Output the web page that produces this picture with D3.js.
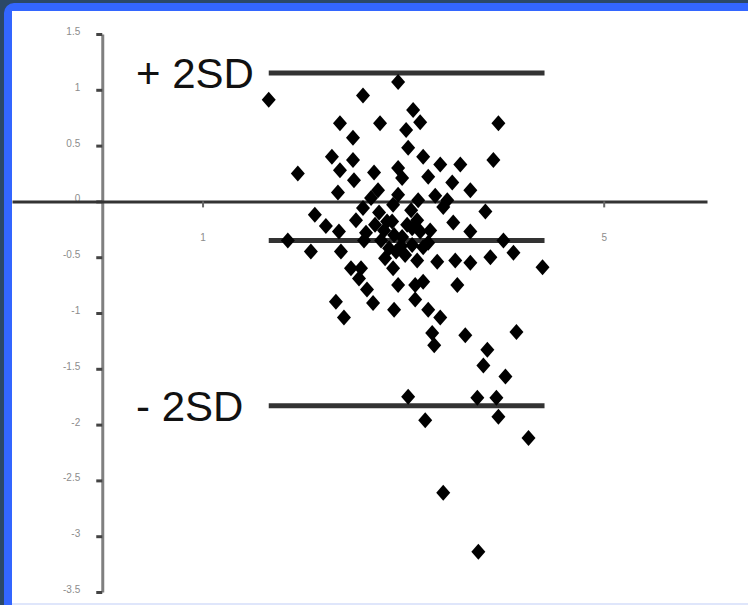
<!DOCTYPE html>
<html>
<head>
<meta charset="utf-8">
<script src="https://cdn.jsdelivr.net/npm/d3@7"></script>
<style>
  body { margin: 0; background: #2b4868; }
  svg { display: block; }
</style>
</head>
<body>
<div id="chart"></div>
<script>
// mean of the two methods (x) and their difference (y)
var meanValues = [
  1.66, 2.95, 2.60, 2.37, 2.77, 3.10, 3.17, 3.03, 2.50, 3.95, 3.90, 1.95, 3.05, 2.29, 2.37, 2.50, 3.20,
  3.37, 3.57, 3.25, 3.49, 2.71, 2.75, 2.95, 2.99, 2.51, 3.67, 2.35, 2.95, 3.44, 3.82, 3.50, 3.67,
  2.12, 2.23, 2.36, 2.38, 2.60, 2.76, 2.63, 2.84, 3.08, 3.14, 3.27, 3.40, 3.20, 2.99, 3.25,
  2.91, 2.98, 2.86, 2.81, 3.04, 2.53, 2.68, 2.90, 3.15, 3.32, 1.85, 2.08, 2.61, 4.00, 4.10,
  3.14, 3.34, 3.52, 3.67, 3.87, 4.39, 2.48, 2.56, 2.58, 2.90, 2.95, 3.12, 3.20, 3.54, 2.64, 2.70,
  2.91, 2.33, 2.41, 3.12, 3.25, 3.37, 3.29, 3.31, 3.62, 4.13, 3.84, 3.80, 4.02, 3.05, 3.22, 3.74,
  3.93, 3.95, 4.25, 3.40, 3.75,
  2.78, 2.93, 3.09, 3.17, 3.02, 2.82, 2.72, 3.09, 2.89
];
var diffValues = [
  0.91, 1.07, 0.95, 0.70, 0.70, 0.82, 0.71, 0.64, 0.57, 0.70, 0.37, 0.25, 0.48, 0.40, 0.28, 0.37, 0.40,
  0.33, 0.33, 0.22, 0.17, 0.26, 0.10, 0.30, 0.21, 0.19, 0.10, 0.08, 0.06, 0.01, -0.09, -0.19, -0.27,
  -0.12, -0.22, -0.27, -0.45, -0.06, -0.10, -0.28, -0.18, -0.08, -0.17, -0.26, -0.05, -0.41, -0.32, -0.37,
  -0.30, -0.40, -0.42, -0.26, -0.21, -0.17, 0.03, -0.03, 0.01, 0.05, -0.35, -0.45, -0.35, -0.35, -0.46,
  -0.53, -0.54, -0.53, -0.55, -0.50, -0.59, -0.60, -0.69, -0.60, -0.60, -0.75, -0.75, -0.72, -0.75, -0.79, -0.91,
  -0.97, -0.90, -1.04, -0.88, -0.97, -1.04, -1.18, -1.29, -1.20, -1.17, -1.33, -1.47, -1.57, -1.75, -1.96, -1.76,
  -1.76, -1.93, -2.12, -2.61, -3.14,
  -0.35, -0.45, -0.39, -0.27, -0.48, -0.51, -0.21, -0.24, -0.18
];

// mean difference and limits of agreement
var refValues = [1.15, -0.35, -1.83];
var refLabels = ["+ 2SD", "", "- 2SD"];

var xTicks = [1, 5];
var yTicks = [1.5, 1, 0.5, 0, -0.5, -1, -1.5, -2, -2.5, -3, -3.5];

var width = 748, height = 605;

var svg = d3.select("#chart")
  .append("svg")
  .attr("width", width)
  .attr("height", height);

// slide frame
svg.append("rect").attr("width", width).attr("height", height).attr("fill", "#2b4868");
svg.append("rect").attr("x", 4).attr("y", 3).attr("width", width + 20).attr("height", height + 20)
  .attr("rx", 10).attr("fill", "#3366ff");
svg.append("rect").attr("x", 12).attr("y", 11).attr("width", width).attr("height", height - 13)
  .attr("fill", "#ffffff");
svg.append("rect").attr("x", 12).attr("y", height - 2).attr("width", width).attr("height", 2)
  .attr("fill", "#dfe6fb");

var x = d3.scaleLinear()
  .domain([-0.9, 6.03])
  .range([12, 707]);

var y = d3.scaleLinear()
  .domain([-3.5, 1.5])
  .range([592, 34]);

var fmt = function (d) { return String(d); };

// Y axis
var yAxis = svg.append("g")
  .attr("transform", "translate(" + x(0) + ",0)")
  .call(d3.axisLeft(y).tickValues(yTicks).tickSize(6).tickSizeOuter(0).tickPadding(16).tickFormat(fmt));
yAxis.select(".domain").attr("stroke", "#808080").attr("stroke-width", 3);
yAxis.selectAll(".tick line").attr("stroke", "#444").attr("stroke-width", 3);
yAxis.selectAll(".tick text")
  .attr("fill", "#8c8c8c")
  .attr("dy", "0.05em")
  .style("font-family", "Liberation Sans, Arial, sans-serif")
  .style("font-size", "10px");

// X axis on the zero line
var xAxis = svg.append("g")
  .attr("transform", "translate(0," + y(0) + ")")
  .call(d3.axisBottom(x).tickValues(xTicks).tickSize(6).tickSizeOuter(0).tickPadding(27).tickFormat(fmt));
xAxis.select(".domain").attr("stroke", "#333").attr("stroke-width", 3);
xAxis.selectAll(".tick line").attr("stroke", "#666").attr("stroke-width", 2);
xAxis.selectAll(".tick text")
  .attr("fill", "#8c8c8c")
  .style("font-family", "Liberation Sans, Arial, sans-serif")
  .style("font-size", "10px");

// reference lines span the range of the data
var ext = d3.extent(meanValues);
svg.selectAll("line.ref")
  .data(refValues)
  .enter()
  .append("line")
  .attr("class", "ref")
  .attr("x1", x(ext[0]))
  .attr("x2", x(ext[1]) + 2)
  .attr("y1", function (d) { return y(d); })
  .attr("y2", function (d) { return y(d); })
  .attr("stroke", "#333")
  .attr("stroke-width", 5);

svg.selectAll("text.ref")
  .data(refValues)
  .enter()
  .append("text")
  .attr("class", "ref")
  .attr("x", 136)
  .attr("y", function (d) { return y(d); })
  .attr("dy", "0.36em")
  .attr("fill", "#111")
  .style("font-family", "Liberation Sans, Arial, sans-serif")
  .style("font-size", "42px")
  .text(function (d, i) { return refLabels[i]; });

// diamond markers
var points = meanValues.map(function (m, i) { return { x: m, y: diffValues[i] }; });
svg.selectAll("path.pt")
  .data(points)
  .enter()
  .append("path")
  .attr("class", "pt")
  .attr("d", "M0,-8L7,0L0,8L-7,0Z")
  .attr("transform", function (d) { return "translate(" + x(d.x) + "," + y(d.y) + ")"; })
  .attr("fill", "#000");
</script>
</body>
</html>
